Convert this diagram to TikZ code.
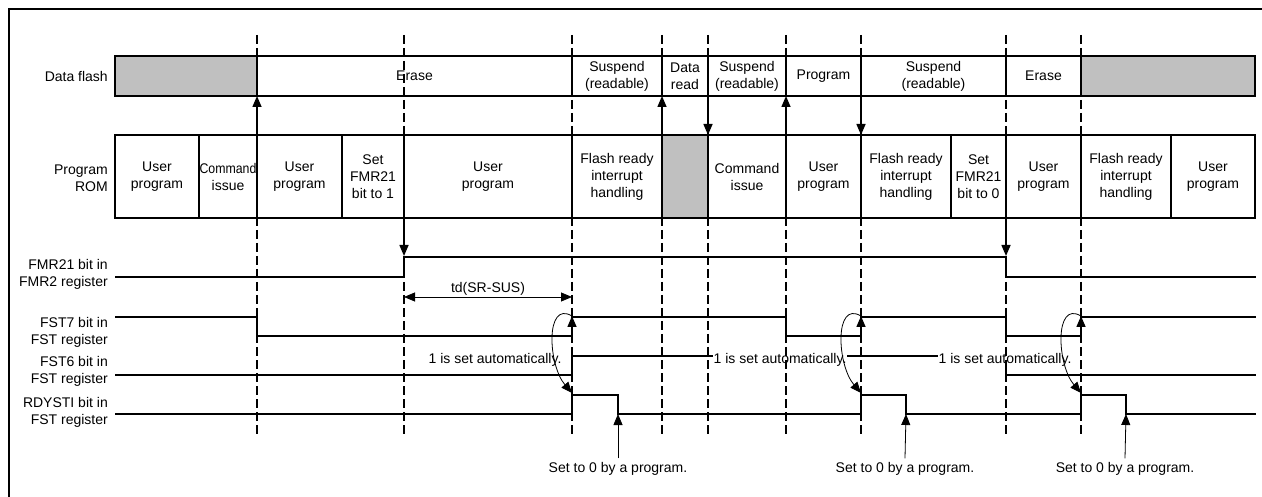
\documentclass[tikz,border=0pt]{standalone}
\usepackage{fontspec}
\setmainfont{Liberation Sans}
\usetikzlibrary{arrows.meta}
\definecolor{gr}{HTML}{C0C0C0}
\newcommand{\tcell}[7]{\node[box, minimum width={(#3-#2)*1pt}, minimum height={(#5-#4)*1pt}, #6] (#1) at ({(#2+#3)/2},{(#4+#5)/2}) {#7};}
\begin{document}
\begin{tikzpicture}[x=1pt,y=-1pt,font=\fontsize{14}{17}\selectfont,
  box/.style={draw, line width=2pt, inner sep=0pt, outer sep=0pt, align=center},
  grey/.style={fill=gr},
  lab/.style={anchor=east, align=right, inner sep=0pt},
  sig/.style={line width=2pt},
  sigthin/.style={line width=1.4pt},
  dline/.style={line width=2pt, dash pattern=on 9pt off 4pt},
  arr/.style={line width=1.5pt, -{Triangle[length=11pt,width=9pt]}},
  thinarr/.style={line width=0.8pt, -{Triangle[length=11pt,width=9pt]}},
  dimarr/.style={line width=0.8pt, {Triangle[length=11pt,width=9pt]}-{Triangle[length=11pt,width=9pt]}},
  note/.style={inner sep=1pt},
  wnote/.style={inner sep=1pt, fill=white}]
\useasboundingbox (0,0) rectangle (1262,497);
% frame
\draw[line width=2.5pt] (9,497) -- (9,9) -- (1262,9);

% row labels
\node[lab] (lDF) at (108,76) {Data flash};
\node[lab] (lROM) at (108,178) {Program\\ROM};
\node[lab] (lFMR) at (108,274) {FMR21 bit in\\FMR2 register};
\node[lab] (lF7) at (108,332) {FST7 bit in\\FST register};
\node[lab] (lF6) at (108,371.5) {FST6 bit in\\FST register};
\node[lab] (lRD) at (108,412) {RDYSTI bit in\\FST register};

% Data flash bar
\tcell{df0}{115}{257}{56}{96}{grey}{}
\tcell{df1}{257}{572}{56}{96}{}{Erase}
\tcell{df2}{572}{662}{56}{96}{}{Suspend\\(readable)}
\tcell{df3}{662}{708}{56}{96}{}{Data\\read}
\tcell{df4}{708}{786}{56}{96}{}{Suspend\\(readable)}
\tcell{df5}{786}{861}{56}{96}{}{Program}
\tcell{df6}{861}{1006}{56}{96}{}{Suspend\\(readable)}
\tcell{df7}{1006}{1081}{56}{96}{}{Erase}
\tcell{df8}{1081}{1255}{56}{96}{grey}{}

% Program ROM bar
\tcell{r1}{115}{199}{135}{218}{}{User\\program}
\tcell{r2}{199}{257}{135}{218}{}{\scalebox{0.88}[1]{Command}\\issue}
\tcell{r3}{257}{342}{135}{218}{}{User\\program}
\tcell{r4}{342}{404}{135}{218}{}{Set\\FMR21\\bit to 1}
\tcell{r5}{404}{572}{135}{218}{}{User\\program}
\tcell{r6}{572}{662}{135}{218}{}{Flash ready\\interrupt\\handling}
\tcell{r7}{662}{708}{135}{218}{grey}{}
\tcell{r8}{708}{786}{135}{218}{}{Command\\issue}
\tcell{r9}{786}{861}{135}{218}{}{User\\program}
\tcell{r10}{861}{951}{135}{218}{}{Flash ready\\interrupt\\handling}
\tcell{r11}{951}{1006}{135}{218}{}{Set\\FMR21\\bit to 0}
\tcell{r12}{1006}{1081}{135}{218}{}{User\\program}
\tcell{r13}{1081}{1171}{135}{218}{}{Flash ready\\interrupt\\handling}
\tcell{r14}{1171}{1255}{135}{218}{}{User\\program}

% signals
\draw[sig] (115,277) -- (404,277) -- (404,257) -- (1006,257) -- (1006,277) -- (1256,277);
\draw[sig] (115,317) -- (257,317) -- (257,336) -- (572,336) -- (572,317) -- (786,317) -- (786,336)
  -- (861,336) -- (861,317) -- (1006,317) -- (1006,336) -- (1081,336) -- (1081,317) -- (1256,317);
\draw[sigthin] (115,375) -- (572,375) -- (572,356) -- (1006,356) -- (1006,375) -- (1256,375);
\draw[sig] (115,414) -- (572,414) -- (572,395) -- (618,395) -- (618,414) -- (861,414) -- (861,395)
  -- (906,395) -- (906,414) -- (1081,414) -- (1081,395) -- (1126,395) -- (1126,414) -- (1256,414);

% named points on the signals
\coordinate (fmrA) at (404,256);
\coordinate (fmrB) at (1006,256);
\coordinate (f7a0) at (572,336); \coordinate (f7a) at (572,316);
\coordinate (f7b0) at (861,336); \coordinate (f7b) at (861,316);
\coordinate (f7c0) at (1081,336); \coordinate (f7c) at (1081,316);
\coordinate (rda) at (572,393); \coordinate (rdb) at (861,393); \coordinate (rdc) at (1081,393);
\coordinate (rz1) at (618,414); \coordinate (rz2) at (906,414); \coordinate (rz3) at (1126,414);

% notes
\node[note] (a1) at (495,360) {1 is set automatically.};
\node[wnote] (a2) at (780,360) {1 is set automatically.};
\node[wnote] (a3) at (1005,360) {1 is set automatically.};
\node[note] (s1) at (618,469) {Set to 0 by a program.};
\node[note] (s2) at (905,469) {Set to 0 by a program.};
\node[note] (s3) at (1125,469) {Set to 0 by a program.};
\node[note] (td) at (488,289) {td(SR-SUS)};

% dashed timing lines
\foreach \x in {257,404,572,662,708,786,861,1006,1081}
  \draw[dline] (\x,35) -- (\x,435);

% arrows between bars
\draw[arr] (r3.north west) -- (df1.south west);
\draw[arr] (r7.north west) -- (df3.south west);
\draw[arr] (df4.south west) -- (r8.north west);
\draw[arr] (r9.north west) -- (df5.south west);
\draw[arr] (df6.south west) -- (r10.north west);
\draw[arr] (r5.south west) -- (fmrA);
\draw[arr] (r12.south west) -- (fmrB);

% FST7 rising edges
\draw[arr] (f7a0) -- (f7a);
\draw[arr] (f7b0) -- (f7b);
\draw[arr] (f7c0) -- (f7c);

% curved arrows FST7 -> RDYSTI
\draw[thinarr] (f7a) .. controls +(-27,-16) and +(-24,-28) .. (rda);
\draw[thinarr] (f7b) .. controls +(-27,-16) and +(-24,-28) .. (rdb);
\draw[thinarr] (f7c) .. controls +(-27,-16) and +(-24,-28) .. (rdc);

% set to 0 arrows
\draw[thinarr] ([yshift=3pt]s1.north) -- (rz1);
\draw[thinarr] ([yshift=3pt]s2.north) -- (rz2);
\draw[thinarr] ([yshift=3pt]s3.north) -- (rz3);

% td dimension
\draw[dimarr] (r5.south west |- 0,297) -- (r5.south east |- 0,297);
\end{tikzpicture}
\end{document}
